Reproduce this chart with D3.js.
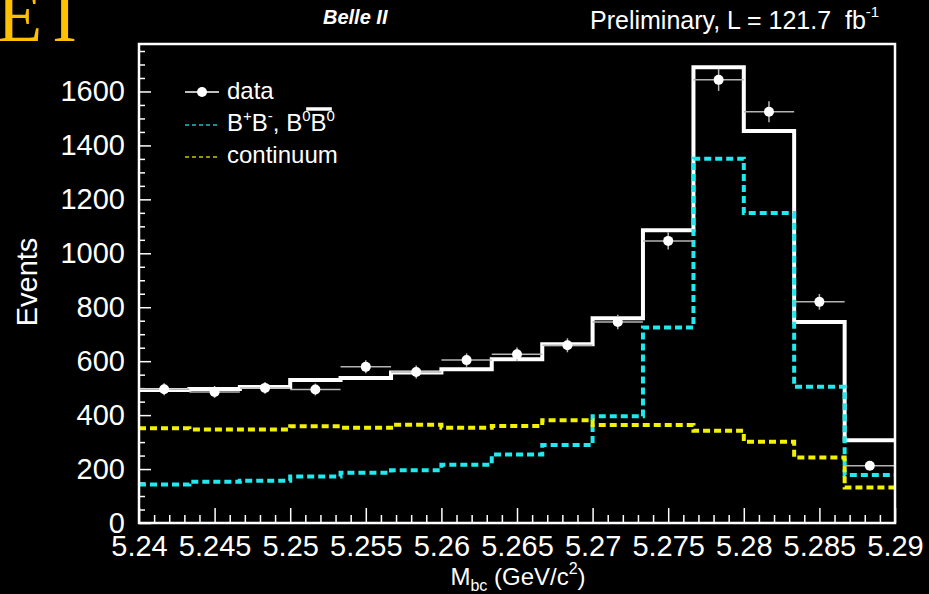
<!DOCTYPE html>
<html>
<head>
<meta charset="utf-8">
<script src="https://cdn.jsdelivr.net/npm/d3@7"></script>
<style>
  html, body { margin: 0; padding: 0; background: #000; }
  svg { display: block; }
  text { font-family: "Liberation Sans", Arial, Helvetica, sans-serif; fill: #fff; }
</style>
</head>
<body>
<svg id="chart" width="929" height="594"></svg>
<script>
// M_bc histogram bin edges (GeV/c^2), 15 bins
const binEdges = [5.2400, 5.24333, 5.24667, 5.2500, 5.25333, 5.25667, 5.2600, 5.26333,
                  5.26667, 5.2700, 5.27333, 5.27667, 5.2800, 5.28333, 5.28667, 5.2900];

// Observed events per bin and their uncertainties
const dataCounts = [496, 486, 501, 495, 579, 560, 604, 626, 659, 745, 1046, 1643, 1525, 820, 212];
const dataErrors = [22, 22, 22, 22, 24, 24, 25, 25, 26, 27, 32, 41, 39, 29, 15];

// Fit components per bin
const totalFit  = [493, 497, 504, 530, 538, 558, 570, 607, 663, 759, 1085, 1690, 1453, 745, 307];
const bbbar     = [143, 153, 157, 172, 186, 196, 216, 254, 289, 396, 725, 1351, 1149, 505, 178];
const continuum = [351, 347, 347, 359, 353, 364, 353, 360, 381, 363, 363, 342, 301, 243, 132];

// Axis ticks
const xTickValues = [5.24, 5.245, 5.25, 5.255, 5.26, 5.265, 5.27, 5.275, 5.28, 5.285, 5.29];
const xTickLabels = ["5.24", "5.245", "5.25", "5.255", "5.26", "5.265", "5.27", "5.275", "5.28", "5.285", "5.29"];
const yTickValues = [0, 200, 400, 600, 800, 1000, 1200, 1400, 1600];
const yTickLabels = ["0", "200", "400", "600", "800", "1000", "1200", "1400", "1600"];

const svg = d3.select("#chart");
const W = 929, H = 594;
svg.append("rect").attr("width", W).attr("height", H).attr("fill", "#000");

const frame = { left: 139, right: 895, top: 44, bottom: 523 };

const x = d3.scaleLinear().domain([5.24, 5.29]).range([frame.left, frame.right]);
const y = d3.scaleLinear().domain([0, 1776]).range([frame.bottom, frame.top]);

// Slide heading fragment in the corner
svg.append("text")
  .attr("x", -3).attr("y", 41)
  .style("font-family", "'Liberation Serif', 'Times New Roman', serif")
  .style("font-size", "74px")
  .style("fill", "#FFC000")
  .text("E")
  .append("tspan").attr("dx", 10).text("I");

// Header texts
svg.append("text")
  .attr("x", 323).attr("y", 24)
  .style("font-size", "20px").style("font-weight", "bold").style("font-style", "italic")
  .text("Belle II");

const hdr = svg.append("text")
  .attr("x", 590).attr("y", 29)
  .style("font-size", "25px")
  .text("Preliminary, L = 121.7\u00a0\u00a0fb");
hdr.append("tspan").attr("dy", -12).style("font-size", "15px").text("-1");

// Axes (ticks point inward)
const xAxis = d3.axisBottom(x).tickValues(xTickValues)
  .tickFormat((d, i) => xTickLabels[i]).tickSizeInner(-15).tickSizeOuter(0).tickPadding(12);
const xMinor = d3.axisBottom(x).tickValues(d3.range(5.24, 5.2905, 0.001).filter(v => Math.abs(v * 200 - Math.round(v * 200)) > 1e-6))
  .tickFormat("").tickSizeInner(-8).tickSizeOuter(0);
const yAxis = d3.axisLeft(y).tickValues(yTickValues)
  .tickFormat((d, i) => yTickLabels[i]).tickSizeInner(-12).tickSizeOuter(0).tickPadding(14);
const yMinor = d3.axisLeft(y).tickValues(d3.range(50, 1776, 50).filter(v => v % 200 !== 0))
  .tickFormat("").tickSizeInner(-6).tickSizeOuter(0);

function styleAxis(g) {
  g.select(".domain").remove();
  g.selectAll(".tick line").attr("stroke", "#fff").attr("stroke-width", 1.5);
  g.selectAll(".tick text").attr("fill", "#fff")
    .style("font-family", "'Liberation Sans', Arial, sans-serif").style("font-size", "29px");
}

svg.append("g").attr("transform", `translate(0,${frame.bottom})`).call(xMinor).call(styleAxis);
svg.append("g").attr("transform", `translate(0,${frame.bottom})`).call(xAxis).call(styleAxis);
svg.append("g").attr("transform", `translate(${frame.left},0)`).call(yMinor).call(styleAxis);
svg.append("g").attr("transform", `translate(${frame.left},0)`).call(yAxis).call(styleAxis);

// Axis titles
const xt = svg.append("text")
  .attr("x", 518).attr("y", 585).attr("text-anchor", "middle")
  .style("font-size", "24px")
  .text("M");
xt.append("tspan").attr("dy", 6).style("font-size", "16px").text("bc");
xt.append("tspan").attr("dy", -6).text(" (GeV/c");
xt.append("tspan").attr("dy", -11).style("font-size", "16px").text("2");
xt.append("tspan").attr("dy", 11).text(")");

svg.append("text")
  .attr("transform", "translate(37,282) rotate(-90)")
  .attr("text-anchor", "middle")
  .style("font-size", "29px")
  .text("Events");

// Step-histogram helper
const stepLine = d3.line()
  .x(d => x(d[0])).y(d => y(d[1]))
  .curve(d3.curveStepAfter);
function stepPoints(values) {
  const pts = values.map((v, i) => [binEdges[i], v]);
  pts.push([binEdges[binEdges.length - 1], values[values.length - 1]]);
  return pts;
}

const plot = svg.append("g");

// Total fit
plot.append("path")
  .attr("d", stepLine(stepPoints(totalFit)))
  .attr("fill", "none").attr("stroke", "#fff").attr("stroke-width", 4);

// B+B-, B0B0bar component
plot.append("path")
  .attr("d", stepLine(stepPoints(bbbar)))
  .attr("fill", "none").attr("stroke", "#1EEAF0").attr("stroke-width", 4)
  .attr("stroke-dasharray", "7,4");

// Continuum component
plot.append("path")
  .attr("d", stepLine(stepPoints(continuum)))
  .attr("fill", "none").attr("stroke", "#F2F200").attr("stroke-width", 4)
  .attr("stroke-dasharray", "7,4");

// Data points with error bars
const pts = plot.selectAll("g.pt").data(dataCounts).join("g").attr("class", "pt");
pts.append("line")
  .attr("x1", (d, i) => x(binEdges[i])).attr("x2", (d, i) => x(binEdges[i + 1]))
  .attr("y1", d => y(d)).attr("y2", d => y(d))
  .attr("stroke", "#b4b4b4").attr("stroke-width", 1.5);
pts.append("line")
  .attr("x1", (d, i) => x((binEdges[i] + binEdges[i + 1]) / 2))
  .attr("x2", (d, i) => x((binEdges[i] + binEdges[i + 1]) / 2))
  .attr("y1", (d, i) => y(d - dataErrors[i])).attr("y2", (d, i) => y(d + dataErrors[i]))
  .attr("stroke", "#b4b4b4").attr("stroke-width", 1.5);
pts.append("circle")
  .attr("cx", (d, i) => x((binEdges[i] + binEdges[i + 1]) / 2))
  .attr("cy", d => y(d))
  .attr("r", 5).attr("fill", "#fff");

// Frame
svg.append("rect")
  .attr("x", frame.left).attr("y", frame.top)
  .attr("width", frame.right - frame.left).attr("height", frame.bottom - frame.top)
  .attr("fill", "none").attr("stroke", "#fff").attr("stroke-width", 2.5);

// Legend
const leg = svg.append("g");
const lx0 = 185, lx1 = 219, ltx = 227;
leg.append("line").attr("x1", lx0).attr("x2", lx1).attr("y1", 92).attr("y2", 92)
  .attr("stroke", "#fff").attr("stroke-width", 1.5);
leg.append("circle").attr("cx", (lx0 + lx1) / 2).attr("cy", 92).attr("r", 5).attr("fill", "#fff");
leg.append("text").attr("x", ltx).attr("y", 99).style("font-size", "24px").text("data");

leg.append("line").attr("x1", lx0).attr("x2", lx1).attr("y1", 125).attr("y2", 125)
  .attr("stroke", "#1BC4C4").attr("stroke-width", 1.5).attr("stroke-dasharray", "4,3");
const bt = leg.append("text").attr("x", ltx).attr("y", 131).style("font-size", "24px");
bt.append("tspan").text("B");
bt.append("tspan").attr("dy", -10).style("font-size", "15px").text("+");
bt.append("tspan").attr("dy", 10).text("B");
bt.append("tspan").attr("dy", -10).style("font-size", "15px").text("-");
bt.append("tspan").attr("dy", 10).text(", B");
bt.append("tspan").attr("dy", -10).style("font-size", "15px").text("0");
bt.append("tspan").attr("dy", 10).text("B");
bt.append("tspan").attr("dy", -10).style("font-size", "15px").text("0");
// overline on the anti-B, running from the first "0" to the trailing "0"
{
  const node = bt.node();
  const txt = node.textContent;
  const idx = txt.lastIndexOf("B");
  const p0 = node.getStartPositionOfChar(idx - 1);
  const p1 = node.getEndPositionOfChar(idx + 1);
  leg.append("line")
    .attr("x1", p0.x + 4).attr("x2", p1.x - 3)
    .attr("y1", 109).attr("y2", 109)
    .attr("stroke", "#fff").attr("stroke-width", 3.5);
}

leg.append("line").attr("x1", lx0).attr("x2", lx1).attr("y1", 157).attr("y2", 157)
  .attr("stroke", "#C8C800").attr("stroke-width", 1.5).attr("stroke-dasharray", "4,3");
leg.append("text").attr("x", ltx).attr("y", 163).style("font-size", "24px").text("continuum");
</script>
</body>
</html>
